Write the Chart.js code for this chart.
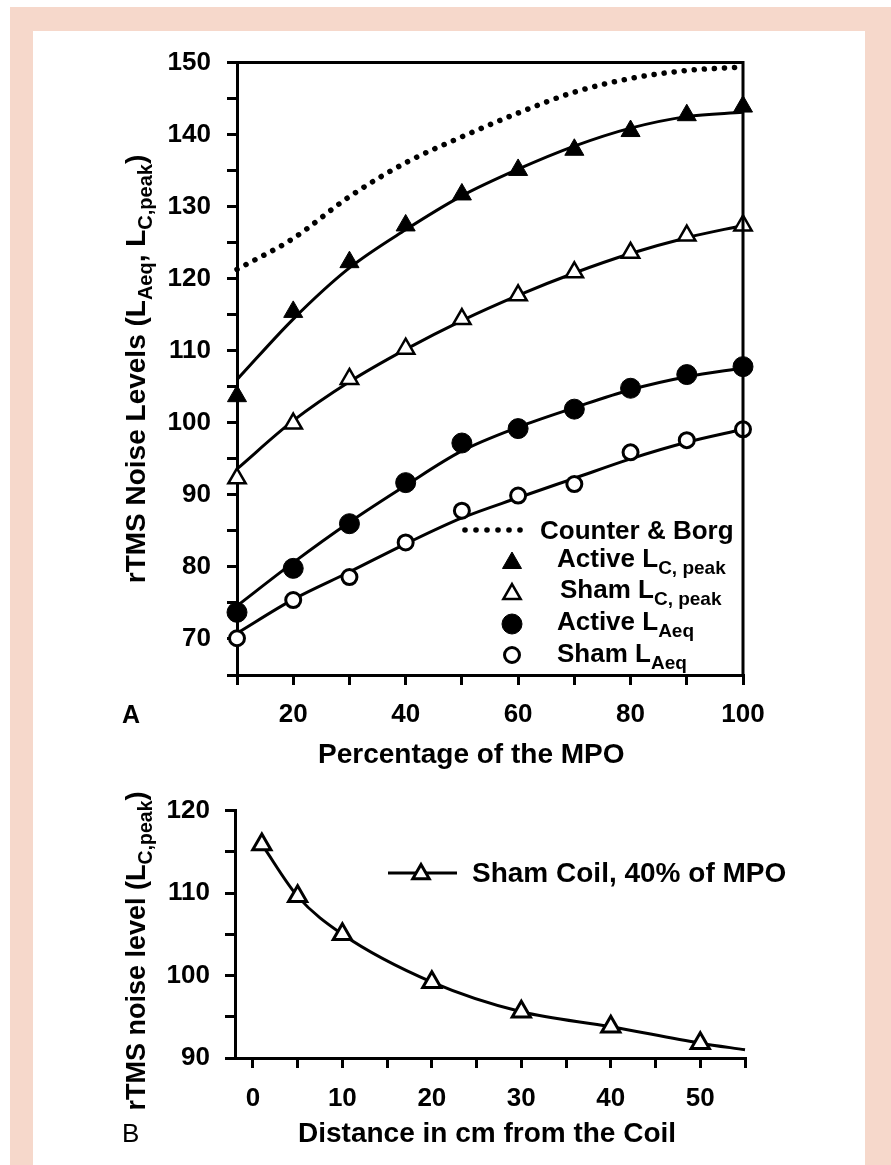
<!DOCTYPE html>
<html lang="en">
<head>
<meta charset="UTF-8">
<title>rTMS noise levels</title>
<script src="https://cdn.jsdelivr.net/npm/chart.js@4.4.1/dist/chart.umd.min.js"></script>
<style>
  html, body { margin: 0; padding: 0; background: #fff; }
  #frame { position: absolute; left: 10px; top: 7px; width: 881px; height: 1158px; background: #f6d8cb; }
  #panel { position: absolute; left: 33px; top: 31px; width: 832px; height: 1134px; background: #fff; overflow: hidden; }
  canvas { position: absolute; left: 0; }
  #chartA { top: 0; }
  #chartB { top: 749px; }
</style>
</head>
<body>
<div id="frame"></div>
<div id="panel">
  <canvas id="chartA" width="832" height="740"></canvas>
  <canvas id="chartB" width="832" height="385"></canvas>
</div>
<script>
var FONT = '"Liberation Sans", Arial, sans-serif';

// ---- panel A : noise level vs percentage of MPO ----
var mpo = [10, 20, 30, 40, 50, 60, 70, 80, 90, 100];
var activeLcPeak = [103.7, 115.4, 122.3, 127.4, 131.7, 135.1, 137.9, 140.5, 142.7, 143.9];
var shamLcPeak   = [92.3, 99.9, 106.1, 110.3, 114.4, 117.7, 120.9, 123.6, 126.0, 127.4];
var activeLAeq   = [73.7, 79.8, 86.0, 91.7, 97.2, 99.2, 101.9, 104.8, 106.7, 107.8];
var shamLAeq     = [70.1, 75.4, 78.6, 83.4, 87.8, 89.9, 91.5, 95.9, 97.6, 99.1];
// fitted curves
var fitActiveLc   = [106.0, 114.4, 121.5, 126.8, 131.5, 135.2, 138.4, 140.9, 142.5, 143.1];
var fitShamLc     = [93.6, 100.3, 105.7, 110.2, 114.2, 117.7, 120.8, 123.5, 125.7, 127.4];
var fitActiveLAeq = [74.6, 80.6, 86.2, 91.3, 96.1, 99.4, 102.1, 104.6, 106.4, 107.6];
var fitShamLAeq   = [70.8, 75.5, 79.3, 83.2, 86.8, 89.6, 92.3, 95.0, 97.3, 99.1];
var counterBorg   = [121.3, 125.6, 131.4, 136.1, 139.7, 143.0, 145.9, 147.8, 148.9, 149.4];

// ---- panel B : noise level vs distance from the coil ----
var distance = [1, 5, 10, 20, 30, 40, 50];
var shamCoil = [115.9, 109.6, 105.0, 99.2, 95.6, 93.8, 91.8];
var curveDistance = [1, 5, 10, 20, 30, 40, 50, 55];
var curveLevel    = [115.9, 109.6, 105.0, 99.2, 95.6, 93.8, 91.8, 91.0];

function pts(xs, ys) {
  return xs.map(function (x, i) { return {x: x, y: ys[i]}; });
}

var tickFont = {family: FONT, weight: 'bold', size: 26};

function font(size, weight) {
  return (weight || 'bold') + ' ' + size + 'px ' + FONT;
}

// text with optional subscripts: parts = [{t, size, dy}]
function richWidth(ctx, parts) {
  var w = 0;
  parts.forEach(function (p) { ctx.font = font(p.size); w += ctx.measureText(p.t).width; });
  return w;
}
function drawRich(ctx, parts, x, y) {
  parts.forEach(function (p) {
    ctx.font = font(p.size);
    ctx.fillText(p.t, x, y + (p.dy || 0));
    x += ctx.measureText(p.t).width;
  });
}
function drawRotated(ctx, parts, x, cy) {
  ctx.save();
  ctx.translate(x, cy);
  ctx.rotate(-Math.PI / 2);
  ctx.textAlign = 'left';
  ctx.textBaseline = 'alphabetic';
  drawRich(ctx, parts, -richWidth(ctx, parts) / 2, 0);
  ctx.restore();
}

function marker(ctx, style, x, y, r, filled, lw) {
  ctx.beginPath();
  if (style === 'triangle') {
    ctx.moveTo(x, y - r);
    ctx.lineTo(x + r * Math.sin(2 * Math.PI / 3), y - r * Math.cos(2 * Math.PI / 3));
    ctx.lineTo(x + r * Math.sin(4 * Math.PI / 3), y - r * Math.cos(4 * Math.PI / 3));
    ctx.closePath();
  } else {
    ctx.arc(x, y, r, 0, Math.PI * 2);
  }
  ctx.fillStyle = filled ? '#000' : '#fff';
  ctx.fill();
  ctx.lineWidth = lw;
  ctx.strokeStyle = '#000';
  ctx.stroke();
}

var decorA = {
  id: 'decorA',
  afterDraw: function (chart) {
    var ctx = chart.ctx, a = chart.chartArea;
    ctx.save();
    // top and right frame
    ctx.strokeStyle = '#000';
    ctx.lineWidth = 3;
    ctx.beginPath();
    ctx.moveTo(a.left, a.top);
    ctx.lineTo(a.right, a.top);
    ctx.lineTo(a.right, a.bottom);
    ctx.stroke();

    // legend
    ctx.fillStyle = '#000';
    for (var i = 0; i < 6; i++) {
      ctx.beginPath();
      ctx.arc(432 + i * 11, 499, 2.8, 0, Math.PI * 2);
      ctx.fill();
    }
    ctx.textBaseline = 'alphabetic';
    ctx.font = font(26);
    ctx.fillText('Counter & Borg', 507, 508);
    marker(ctx, 'triangle', 479, 532, 11, true, 1);
    marker(ctx, 'triangle', 479, 563, 10, false, 2.5);
    marker(ctx, 'circle', 479, 593, 10, true, 1);
    marker(ctx, 'circle', 479, 624, 7.5, false, 3);
    ctx.fillStyle = '#000';
    drawRich(ctx, [{t: 'Active L', size: 26}, {t: 'C, peak', size: 19, dy: 7}], 524, 536);
    drawRich(ctx, [{t: 'Sham L', size: 26}, {t: 'C, peak', size: 19, dy: 7}], 527, 567);
    drawRich(ctx, [{t: 'Active L', size: 26}, {t: 'Aeq', size: 19, dy: 7}], 524, 599);
    drawRich(ctx, [{t: 'Sham L', size: 26}, {t: 'Aeq', size: 19, dy: 7}], 524, 631);

    // axis titles and panel letter
    drawRotated(ctx, [{t: 'rTMS Noise Levels (L', size: 28}, {t: 'Aeq', size: 20, dy: 7},
      {t: ', L', size: 28}, {t: 'C,peak', size: 20, dy: 7}, {t: ')', size: 28}], 112, 338);
    ctx.font = font(28);
    ctx.fillText('Percentage of the MPO', 285, 732);
    ctx.font = font(25);
    ctx.fillText('A', 89, 692);
    ctx.restore();
  }
};

var decorB = {
  id: 'decorB',
  afterDraw: function (chart) {
    var ctx = chart.ctx;
    ctx.save();
    ctx.strokeStyle = '#000';
    ctx.lineWidth = 3;
    ctx.beginPath();
    ctx.moveTo(355, 93);
    ctx.lineTo(424, 93);
    ctx.stroke();
    marker(ctx, 'triangle', 388, 94, 9.5, false, 3);
    ctx.fillStyle = '#000';
    ctx.textBaseline = 'middle';
    ctx.font = font(28);
    ctx.fillText('Sham Coil, 40% of MPO', 439, 94);
    ctx.textBaseline = 'alphabetic';
    drawRotated(ctx, [{t: 'rTMS noise level (L', size: 27}, {t: 'C,peak', size: 19.5, dy: 7},
      {t: ')', size: 27}], 112, 171);
    ctx.font = font(28);
    ctx.fillText('Distance in cm from the Coil', 265, 362);
    ctx.font = font(26, 'normal');
    ctx.fillText('B', 89, 362);
    ctx.restore();
  }
};

function axisOpts(extra) {
  var o = {
    type: 'linear',
    border: {display: true, color: '#000', width: 3},
    grid: {drawOnChartArea: false, drawTicks: true, tickLength: 10, color: '#000', lineWidth: 3},
    ticks: {autoSkip: false, maxRotation: 0, includeBounds: false, color: '#000', font: tickFont}
  };
  for (var k in extra) {
    if (k === 'ticks') { for (var t in extra.ticks) o.ticks[t] = extra.ticks[t]; }
    else o[k] = extra[k];
  }
  return o;
}

var common = {
  responsive: false,
  animation: false,
  devicePixelRatio: 1,
  events: [],
  plugins: {legend: {display: false}, tooltip: {enabled: false}}
};

function fitLine(ys) {
  return {data: pts(mpo, ys), borderColor: '#000', borderWidth: 3, pointRadius: 0,
    tension: 0.4, cubicInterpolationMode: 'monotone', fill: false, clip: false};
}
function markers(ys, style, r, filled, lw) {
  return {data: pts(mpo, ys), showLine: false, pointStyle: style, pointRadius: r,
    pointBackgroundColor: filled ? '#000' : '#fff', pointBorderColor: '#000',
    pointBorderWidth: lw, clip: false};
}

new Chart(document.getElementById('chartA'), {
  type: 'line',
  data: {
    datasets: [
      markers(activeLcPeak, 'triangle', 11, true, 1),
      markers(shamLcPeak, 'triangle', 10, false, 2.5),
      markers(activeLAeq, 'circle', 10, true, 1),
      markers(shamLAeq, 'circle', 7.5, false, 3),
      fitLine(fitActiveLc),
      fitLine(fitShamLc),
      fitLine(fitActiveLAeq),
      fitLine(fitShamLAeq),
      {data: pts(mpo, counterBorg), borderColor: '#000', borderWidth: 5.5, borderDash: [0.1, 10],
        borderCapStyle: 'round', pointRadius: 0, tension: 0.4, cubicInterpolationMode: 'monotone',
        fill: false, clip: false}
    ]
  },
  options: Object.assign({}, common, {
    layout: {padding: {left: 0, top: 28, right: 122, bottom: 0}},
    scales: {
      x: axisOpts({min: 10, max: 100, afterFit: function (s) { s.height = 96; },
        ticks: {stepSize: 10, padding: 14, callback: function (v) { return v % 20 === 0 ? v : ''; }}}),
      y: axisOpts({min: 65, max: 150, afterFit: function (s) { s.width = 204; },
        ticks: {stepSize: 5, padding: 16, callback: function (v) { return v % 10 === 0 ? v : ''; }}})
    }
  }),
  plugins: [decorA]
});

new Chart(document.getElementById('chartB'), {
  type: 'line',
  data: {
    datasets: [
      {data: pts(distance, shamCoil), showLine: false, pointStyle: 'triangle', pointRadius: 10.5,
        pointBackgroundColor: '#fff', pointBorderColor: '#000', pointBorderWidth: 3, clip: false},
      {data: pts(curveDistance, curveLevel), borderColor: '#000', borderWidth: 3, pointRadius: 0,
        tension: 0.4, cubicInterpolationMode: 'monotone', fill: false, clip: false}
    ]
  },
  options: Object.assign({}, common, {
    layout: {padding: {left: 0, top: 29, right: 120, bottom: 0}},
    scales: {
      x: axisOpts({min: -2, max: 55, afterFit: function (s) { s.height = 107; },
        ticks: {stepSize: 5, padding: 15, callback: function (v) { return v % 10 === 0 ? v : ''; }}}),
      y: axisOpts({min: 90, max: 120, afterFit: function (s) { s.width = 202; },
        ticks: {stepSize: 5, padding: 15, callback: function (v) { return v % 10 === 0 ? v : ''; }}})
    }
  }),
  plugins: [decorB]
});
</script>
</body>
</html>
